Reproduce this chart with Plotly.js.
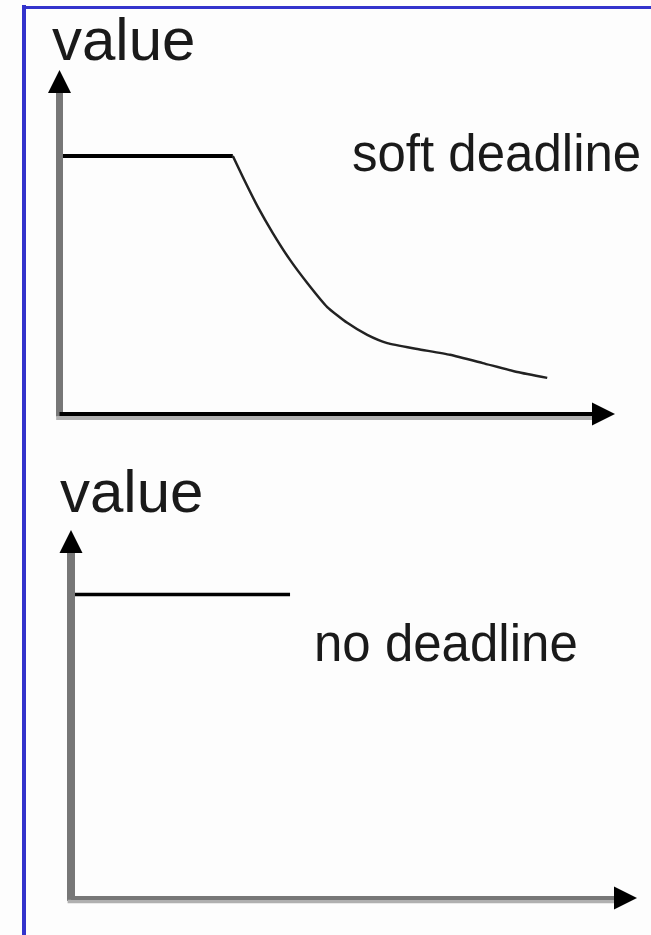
<!DOCTYPE html>
<html>
<head>
<meta charset="utf-8">
<script src="https://cdn.plot.ly/plotly-3.0.1.min.js"></script>
<style>
  html, body { margin: 0; padding: 0; background: #fff; }
  #graph { width: 651px; height: 935px; }
</style>
</head>
<body>
<div id="graph"></div>
<script>
var W = 651, H = 935;

var axisLabel = 'value';
var curveLabels = ['soft deadline', 'no deadline'];

// soft deadline: flat value, then it decays
var softFlatX = [0, 31.2];
var softFlatY = [75, 75];
var softDecayX = [31.2, 33.0, 35.7, 38.4, 41.5, 44.6, 48.2, 51.8, 55.4, 59.0, 64.4, 70.3, 76.2, 82.4, 87.8];
var softDecayY = [75, 68.9, 60.2, 52.6, 44.8, 38.1, 31.1, 26.5, 23.0, 20.6, 18.9, 17.2, 14.8, 12.2, 10.5];

// no deadline: flat value
var noneX = [0, 38.7];
var noneY = [82.5, 82.5];

// axes of a panel: origin and arrow tip in pixels, data 0..100 on both
function panel(ox, oy, tx, ty) {
  var pad = 14;
  var sx = (tx - ox) / 100, sy = (oy - ty) / 100;
  var common = {showgrid: false, zeroline: false, showticklabels: false, ticks: '', showline: false, fixedrange: true};
  return {
    x: Object.assign({domain: [(ox - pad) / W, (tx + pad) / W], range: [-pad / sx, 100 + pad / sx]}, common),
    y: Object.assign({domain: [1 - (oy + pad) / H, 1 - (ty - pad) / H], range: [-pad / sy, 100 + pad / sy]}, common)
  };
}
var upper = panel(59.5, 414, 615, 70);
var lower = panel(71, 898, 637, 530);

var data = [
  {x: softFlatX, y: softFlatY, xaxis: 'x', yaxis: 'y', mode: 'lines', line: {color: '#000', width: 4}},
  {x: softDecayX, y: softDecayY, xaxis: 'x', yaxis: 'y', mode: 'lines',
   line: {color: '#222', width: 2.5, shape: 'spline', smoothing: 0.5}},
  {x: noneX, y: noneY, xaxis: 'x2', yaxis: 'y2', mode: 'lines', line: {color: '#000', width: 3.5}}
];

function axisShapes(xr, yr, yw, xc, shadowY, sw) {
  return [
    {type: 'line', xref: xr, yref: yr, x0: 0, y0: -0.8, x1: 0, y1: 95, line: {color: '#777', width: yw}},
    {type: 'line', xref: xr, yref: yr, x0: -0.6, y0: shadowY, x1: 96, y1: shadowY, line: {color: '#b0b0b0', width: sw}},
    {type: 'line', xref: xr, yref: yr, x0: 0, y0: 0, x1: 96, y1: 0, line: {color: xc, width: 4}}
  ];
}

function head(xr, yr, x, y, ax, ay) {
  return {xref: xr, yref: yr, x: x, y: y, ax: ax, ay: ay, text: '', showarrow: true,
          arrowhead: 2, arrowsize: 2.3, arrowwidth: 2, arrowcolor: '#000'};
}

function label(text, x, yBottom, size) {
  return {xref: 'paper', yref: 'paper', x: x / W, y: 1 - yBottom / H, xanchor: 'left', yanchor: 'bottom',
          text: text, showarrow: false,
          font: {family: 'Liberation Sans, Arial, sans-serif', size: size, color: '#1a1a1a'}};
}

var shapes = []
  .concat(axisShapes('x', 'y', 7, '#000', -1.16, 4))
  .concat(axisShapes('x2', 'y2', 8, '#777', -0.95, 3.5))
  .concat([
    {type: 'line', xref: 'paper', yref: 'paper', x0: 24 / W, x1: 24 / W, y0: 0, y1: 1 - 5 / H, line: {color: '#3333cc', width: 4}},
    {type: 'line', xref: 'paper', yref: 'paper', x0: 22 / W, x1: 1, y0: 1 - 7.5 / H, y1: 1 - 7.5 / H, line: {color: '#3333cc', width: 3}}
  ]);

var annotations = [
  head('x', 'y', 0, 100, 0, 20),
  head('x', 'y', 100, 0, -20, 0),
  head('x2', 'y2', 0, 100, 0, 20),
  head('x2', 'y2', 100, 0, -20, 0),
  label(axisLabel, 50, 75, 60),
  label(curveLabels[0], 350, 184, 51),
  label(axisLabel, 58, 527, 60),
  label(curveLabels[1], 312, 674, 51)
];

var layout = {
  width: W, height: H,
  margin: {l: 0, r: 0, t: 0, b: 0},
  paper_bgcolor: '#fdfdfd',
  plot_bgcolor: 'rgba(0,0,0,0)',
  showlegend: false,
  xaxis: upper.x, yaxis: upper.y,
  xaxis2: Object.assign({anchor: 'y2'}, lower.x),
  yaxis2: Object.assign({anchor: 'x2'}, lower.y),
  shapes: shapes,
  annotations: annotations
};

Plotly.newPlot('graph', data, layout, {displayModeBar: false, staticPlot: true});
</script>
</body>
</html>
